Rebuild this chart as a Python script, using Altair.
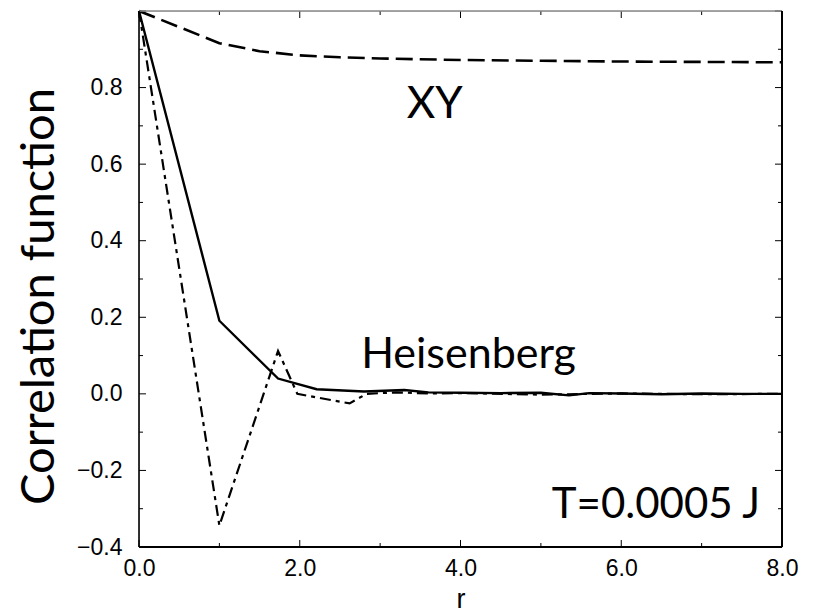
import altair as alt
import pandas as pd

# --- data ---
r_xy = [0.0, 1.0, 1.5, 2.0, 2.5, 3.0, 4.0, 5.0, 6.0, 7.0, 8.0]
c_xy = [1.0, 0.916, 0.895, 0.884, 0.879, 0.876, 0.872, 0.870, 0.868, 0.867, 0.866]

r_heis = [0.0, 1.0, 1.73, 2.21, 2.8, 3.3, 3.6, 4.0, 4.5, 5.0, 5.35, 5.6, 6.0, 6.5, 7.0, 7.5, 8.0]
c_heis = [1.0, 0.191, 0.040, 0.012, 0.006, 0.010, 0.004, 0.003, 0.002, 0.003, -0.004, 0.002, 0.001, -0.001, 0.001, 0.0, 0.0]

r_other = [0.0, 1.0, 1.73, 1.97, 2.62, 2.83, 3.2, 3.6, 4.0, 5.0, 6.0, 7.0, 8.0]
c_other = [1.0, -0.344, 0.112, 0.0, -0.025, 0.0, 0.004, 0.001, 0.002, -0.002, 0.001, -0.001, 0.0]

y_major = [-0.4, -0.2, 0.0, 0.2, 0.4, 0.6, 0.8, 1.0]
y_minor = [-0.3, -0.1, 0.1, 0.3, 0.5, 0.7, 0.9]
y_labels = [-0.4, -0.2, 0.0, 0.2, 0.4, 0.6, 0.8]
x_major = [0.0, 2.0, 4.0, 6.0, 8.0]
x_minor = [1.0, 3.0, 5.0, 7.0]

W, H = 643, 536
xs = alt.Scale(domain=[0, 8], nice=False, zero=False)
ys = alt.Scale(domain=[-0.4, 1.0], nice=False, zero=False)

df_xy = pd.DataFrame({"r": r_xy, "c": c_xy})
df_heis = pd.DataFrame({"r": r_heis, "c": c_heis})
df_other = pd.DataFrame({"r": r_other, "c": c_other})

xaxis = alt.Axis(values=x_major, format=".1f", ticks=False, domain=False, grid=False,
                 labelFont="Liberation Sans", labelFontSize=23, labelColor="black",
                 labelPadding=10, labelFlush=False, title="r", titleFont="Liberation Sans",
                 titleFontSize=27, titleFontWeight="normal", titleColor="black",
                 titleBaseline="alphabetic", titleY=60, titleX=W / 2, titleAlign="center")
yaxis = alt.Axis(values=y_labels, format=".1f", ticks=False, domain=False, grid=False,
                 labelFont="Liberation Sans", labelFontSize=23, labelColor="black",
                 labelPadding=17, labelFlush=False, title="Correlation function", titleFont="Lato",
                 titleFontSize=47, titleFontWeight="normal", titleColor="black",
                 titleBaseline="alphabetic", titleX=-86, titleY=285, titleAlign="center",
                 titleAngle=270)

X = lambda f: alt.X(f, scale=xs, axis=xaxis)
Y = lambda f: alt.Y(f, scale=ys, axis=yaxis)

heis_line = alt.Chart(df_heis).mark_line(color="black", strokeWidth=2.4).encode(
    x=X("r:Q"), y=Y("c:Q"))
xy_line = alt.Chart(df_xy).mark_line(color="black", strokeWidth=2.6, strokeDash=[17, 7]).encode(
    x=X("r:Q"), y=Y("c:Q"))
other_line = alt.Chart(df_other).mark_line(color="black", strokeWidth=2.2, strokeDash=[11, 5, 4, 5]).encode(
    x=X("r:Q"), y=Y("c:Q"))

def yticks(vals, length):
    d = pd.DataFrame({"r": vals})
    left = alt.Chart(d).mark_rule(color="black", strokeWidth=1).encode(
        y=Y("r:Q"), x=alt.value(0), x2=alt.value(length))
    right = alt.Chart(d).mark_rule(color="black", strokeWidth=1).encode(
        y=Y("r:Q"), x=alt.value(W - length), x2=alt.value(W))
    return [left, right]

def xticks(vals, length):
    d = pd.DataFrame({"r": vals})
    bottom = alt.Chart(d).mark_rule(color="black", strokeWidth=1).encode(
        x=X("r:Q"), y=alt.value(H - length), y2=alt.value(H))
    top = alt.Chart(d).mark_rule(color="black", strokeWidth=1).encode(
        x=X("r:Q"), y=alt.value(0), y2=alt.value(length))
    return [bottom, top]

def frame(x1, x2, y1, y2, color, width):
    return alt.Chart(pd.DataFrame({"k": [0]})).mark_rule(color=color, strokeWidth=width).encode(
        x=alt.value(x1), x2=alt.value(x2), y=alt.value(y1), y2=alt.value(y2))

def label(txt, x, y, size):
    return alt.Chart(pd.DataFrame({"t": [txt]})).mark_text(
        font="Lato", fontSize=size, align="center", baseline="alphabetic", color="black"
    ).encode(x=alt.datum(x, scale=xs, axis=xaxis), y=alt.datum(y, scale=ys, axis=yaxis), text="t:N")

layers = [heis_line, xy_line, other_line]
layers += yticks(y_major, 7) + yticks(y_minor, 4) + xticks(x_major, 7) + xticks(x_minor, 4)
layers += [
    frame(0, W, 0, 0, "#888888", 1.5),
    frame(0, W, H, H, "black", 2),
    frame(0, 0, 0, H, "black", 1.6),
    frame(W, W, 0, H, "black", 2),
    label("XY", 3.68, 0.72, 44),
    label("Heisenberg", 4.1, 0.067, 43),
    label("T=0.0005 J", 6.43, -0.324, 42),
]

chart = alt.layer(*layers).properties(
    width=W, height=H,
    autosize=alt.AutoSizeParams(type="none"),
    padding={"left": 139, "top": 11, "right": 818 - 139 - W, "bottom": 612 - 11 - H},
).configure_view(stroke=None).configure(background="white")

chart.save("out.html", embed_options={"renderer": "svg", "actions": False})
